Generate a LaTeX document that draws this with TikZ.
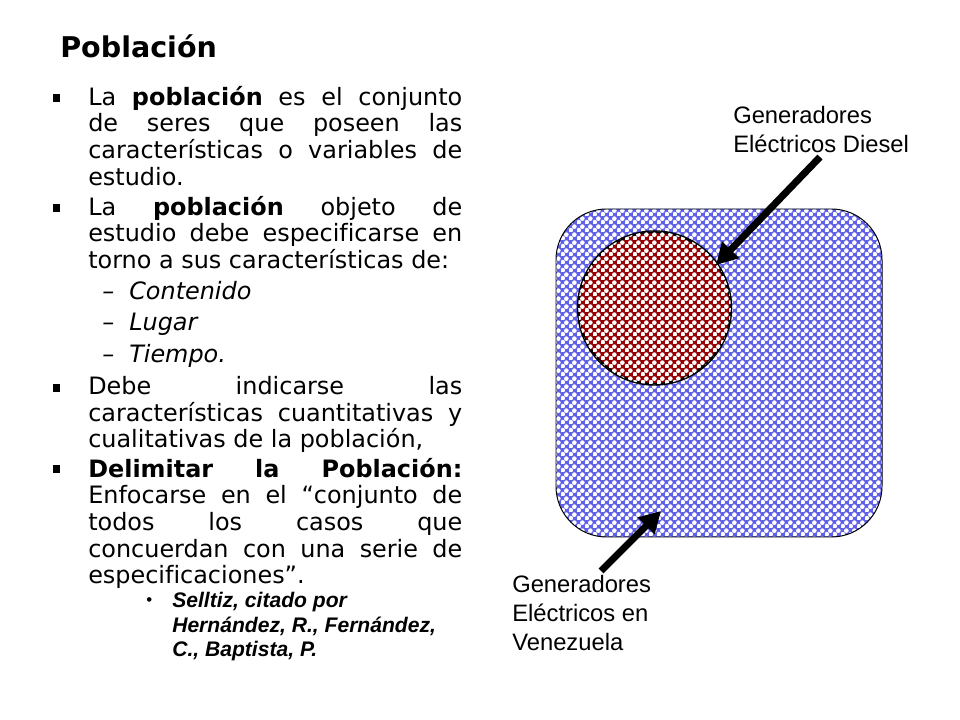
\documentclass[tikz,border=0pt]{standalone}
\usepackage{fontspec}
\setmainfont[Ligatures={TeX,NoCommon}]{DejaVu Sans}
\newfontfamily\arialfont{Liberation Sans}
\usetikzlibrary{patterns,arrows.meta}

\pgfdeclarepatternformonly{dotcheck}{\pgfpointorigin}{\pgfqpoint{5.7pt}{5.7pt}}{\pgfqpoint{5.7pt}{5.7pt}}{
    \pgfpathcircle{\pgfqpoint{1.42pt}{1.42pt}}{1.85pt}
    \pgfpathcircle{\pgfqpoint{4.27pt}{4.27pt}}{1.85pt}
    \pgfusepath{fill}
}

\definecolor{popblue}{RGB}{96,96,232}
\definecolor{sampred}{RGB}{150,0,0}

\tikzset{
    x=0.025cm, y=-0.025cm,
    bodytext/.style={anchor=north west, inner sep=0pt, text width=266pt, align=justify,
        font=\fontsize{17}{18.9}\selectfont},
    subitem/.style={anchor=base west, inner sep=0pt, font=\fontsize{17}{19}\selectfont\itshape},
    squarebullet/.style={fill=black, inner sep=0pt, minimum size=5pt},
    captiontext/.style={anchor=north west, inner sep=0pt, align=left,
        font=\arialfont\fontsize{16.9}{20.6}\selectfont},
    bigarrow/.style={line width=5pt, -{Triangle[length=15pt,width=16pt]}},
}

\begin{document}
\begin{tikzpicture}
    \useasboundingbox (0,0) rectangle (960,720);

    \node[anchor=west, inner sep=0pt, font=\fontsize{20.3}{24}\selectfont\bfseries] (title) at (60,46) {Población};

    % left column
    \node[squarebullet] (b1) at (56.5,98) {};
    \node[bodytext] (p1) at (88,86) {La \textbf{población} es el conjunto\linebreak de seres que poseen las\linebreak características o variables de\linebreak estudio.};
    \node[squarebullet] (b2) at (56.5,208) {};
    \node[bodytext] (p2) at (88,196) {La \textbf{población} objeto de\linebreak estudio debe especificarse en\linebreak torno a sus características de:};
    \node[subitem] (dash1) at (102,300) {–};
    \node[subitem] (s1) at (129,300) {Contenido};
    \node[subitem] (dash2) at (102,331) {–};
    \node[subitem] (s2) at (129,331) {Lugar};
    \node[subitem] (dash3) at (102,363) {–};
    \node[subitem] (s3) at (129,363) {Tiempo.};
    \node[squarebullet] (b3) at (56.5,388) {};
    \node[bodytext] (p3) at (88,376) {Debe indicarse las\linebreak características cuantitativas y\linebreak cualitativas de la población,};
    \node[squarebullet] (b4) at (56.5,469) {};
    \node[bodytext] (p4) at (88,458) {\textbf{Delimitar la Población:}\linebreak Enfocarse en el ``conjunto de\linebreak todos los casos que\linebreak concuerdan con una serie de\linebreak especificaciones''.};
    \node[anchor=west, inner sep=0pt, font=\arialfont\fontsize{12}{14}\selectfont] (b5) at (146,602) {•};
    \node[anchor=north west, inner sep=0pt, align=left, font=\arialfont\fontsize{15}{17.4}\selectfont\bfseries\itshape] (cite) at (172,592) {Selltiz, citado por\\Hernández, R., Fernández,\\C., Baptista, P.};

    % population
    \fill[popblue, rounded corners=36] (556,209) rectangle (882,537);
    \fill[pattern=dotcheck, pattern color=white, rounded corners=36] (556,209) rectangle (882,537);
    \draw[black, line width=0.7pt, rounded corners=36] (556,209) rectangle (882,537);

    \node[circle, minimum size=108.5pt, inner sep=0pt, draw=black, line width=2pt, fill=sampred,
          postaction={pattern=dotcheck, pattern color=white}] (sample) at (654.5,308) {};

    \node[captiontext] (diesel) at (733,106) {Generadores\\Eléctricos Diesel};
    \node[captiontext] (venezuela) at (512,575) {Generadores\\Eléctricos en\\Venezuela};
    \coordinate (dieselstart) at (820,157);
    \coordinate (dieseltip) at (716,265);
    \coordinate (venstart) at (601,571);
    \coordinate (ventip) at (661,511);
    \draw[bigarrow] (dieselstart) -- (dieseltip);
    \draw[bigarrow] (venstart) -- (ventip);
\end{tikzpicture}
\end{document}
